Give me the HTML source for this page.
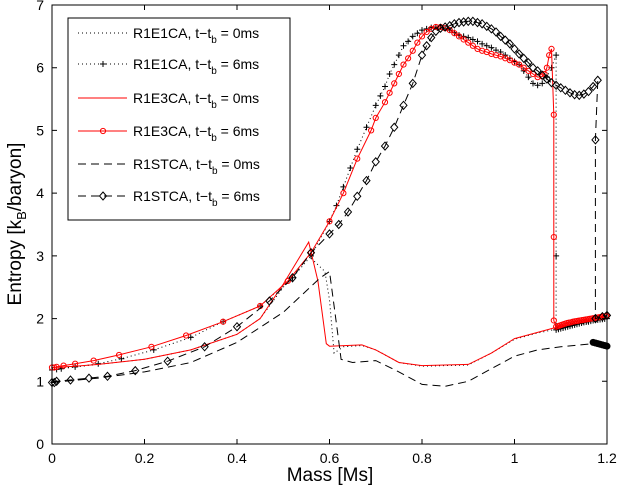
<!DOCTYPE html>
<html><head><meta charset="utf-8"><style>
html,body{margin:0;padding:0;background:#fff;}
svg{display:block;font-family:"Liberation Sans",sans-serif;}
</style></head><body>
<svg id="chart" width="618" height="491" viewBox="0 0 618 491" xmlns="http://www.w3.org/2000/svg">
<g id="plot"></g>
<g id="axes"></g>
<g id="legend"></g>
</svg>
<script>
const xTicks=[0,0.2,0.4,0.6,0.8,1,1.2];
const xTickLabels=["0","0.2","0.4","0.6","0.8","1","1.2"];
const yTicks=[0,1,2,3,4,5,6,7];
const yTickLabels=["0","1","2","3","4","5","6","7"];
// R1E1CA 0ms
const e1_0x=[0,0.05,0.1,0.2,0.3,0.4,0.45,0.5,0.555,0.59,0.6,0.61,0.63,0.67,0.7,0.75,0.8,0.9,0.95,1.0,1.05,1.09,1.15,1.2];
const e1_0y=[1.2,1.23,1.27,1.35,1.5,1.75,2.0,2.5,3.0,2.75,2.3,1.45,1.55,1.57,1.5,1.3,1.24,1.26,1.45,1.67,1.77,1.83,1.92,2.0];
// R1E1CA 6ms
const e1_6x=[0,0.01,0.02,0.05,0.1,0.15,0.22,0.3,0.37,0.45,0.52,0.56,0.6,0.615,0.63,0.645,0.66,0.68,0.7,0.71,0.72,0.73,0.74,0.75,0.76,0.77,0.78,0.79,0.8,0.81,0.82,0.83,0.84,0.85,0.86,0.87,0.88,0.89,0.9,0.91,0.92,0.93,0.94,0.95,0.96,0.97,0.98,0.99,1.0,1.01,1.02,1.03,1.04,1.05,1.06,1.07,1.08,1.09,1.09,1.09,1.09,1.095,1.1,1.105,1.11,1.115,1.12,1.125,1.13,1.135,1.14,1.145,1.15,1.155,1.16,1.165,1.17,1.175,1.18,1.185,1.19,1.195,1.2];
const e1_6y=[1.18,1.19,1.2,1.23,1.28,1.36,1.5,1.7,1.95,2.2,2.65,3.0,3.55,3.8,4.1,4.4,4.7,5.05,5.4,5.55,5.7,5.9,6.05,6.2,6.35,6.42,6.5,6.55,6.6,6.62,6.64,6.65,6.65,6.63,6.6,6.56,6.52,6.5,6.48,6.45,6.42,6.38,6.35,6.32,6.28,6.25,6.2,6.15,6.1,6.05,5.95,5.85,5.75,5.72,5.75,5.85,6.0,6.2,3.0,1.85,1.82,1.83,1.84,1.85,1.86,1.87,1.88,1.89,1.9,1.91,1.92,1.93,1.94,1.945,1.95,1.96,1.97,1.975,1.98,1.985,1.99,1.995,2.0];
// R1E3CA 0ms
const e3_0x=[0,0.05,0.1,0.2,0.3,0.4,0.45,0.5,0.555,0.575,0.593,0.6,0.67,0.7,0.75,0.8,0.9,0.95,1.0,1.05,1.085,1.15,1.2];
const e3_0y=[1.22,1.24,1.27,1.35,1.5,1.75,2.0,2.55,3.22,2.6,1.6,1.56,1.58,1.5,1.3,1.25,1.27,1.45,1.68,1.78,1.85,1.95,2.05];
// R1E3CA 6ms
const e3_6x=[0,0.005,0.01,0.025,0.05,0.09,0.145,0.215,0.29,0.37,0.45,0.51,0.56,0.6,0.63,0.66,0.69,0.7,0.72,0.73,0.74,0.75,0.76,0.77,0.78,0.79,0.8,0.81,0.82,0.83,0.84,0.85,0.86,0.87,0.88,0.89,0.9,0.91,0.92,0.93,0.94,0.95,0.96,0.97,0.98,0.99,1.0,1.01,1.02,1.03,1.04,1.05,1.06,1.065,1.07,1.075,1.08,1.085,1.085,1.085,1.09,1.094,1.098,1.102,1.106,1.11,1.114,1.118,1.122,1.126,1.13,1.134,1.138,1.142,1.146,1.15,1.154,1.158,1.162,1.166,1.17,1.174,1.178,1.182,1.186,1.19,1.194,1.198,1.2];
const e3_6y=[1.22,1.22,1.23,1.25,1.28,1.33,1.42,1.55,1.73,1.95,2.2,2.6,3.05,3.55,4.0,4.55,5.0,5.2,5.45,5.6,5.75,5.9,6.05,6.15,6.27,6.4,6.5,6.57,6.62,6.65,6.65,6.63,6.6,6.55,6.5,6.45,6.4,6.35,6.3,6.27,6.25,6.22,6.2,6.18,6.15,6.12,6.08,6.05,6.0,5.95,5.9,5.85,5.86,5.9,6.0,6.2,6.3,5.25,3.3,1.97,1.87,1.88,1.89,1.9,1.91,1.92,1.93,1.935,1.94,1.95,1.955,1.96,1.965,1.97,1.975,1.98,1.985,1.99,1.995,2.0,2.005,2.01,2.015,2.02,2.025,2.03,2.035,2.04,2.05];
// R1STCA 0ms
const st_0x=[0,0.1,0.2,0.3,0.4,0.5,0.58,0.6,0.61,0.625,0.65,0.7,0.75,0.8,0.85,0.9,0.95,1.0,1.05,1.1,1.17,1.2];
const st_0y=[0.98,1.05,1.15,1.3,1.62,2.1,2.65,2.75,2.2,1.35,1.3,1.33,1.15,0.95,0.92,1.0,1.2,1.4,1.5,1.55,1.6,1.55];
// R1STCA 6ms
const st_6x=[0,0.005,0.01,0.04,0.08,0.12,0.18,0.25,0.33,0.4,0.47,0.52,0.56,0.6,0.62,0.64,0.66,0.68,0.7,0.72,0.74,0.76,0.78,0.8,0.81,0.82,0.83,0.84,0.85,0.86,0.87,0.88,0.89,0.9,0.91,0.92,0.93,0.94,0.95,0.96,0.97,0.98,0.99,1.0,1.01,1.02,1.03,1.04,1.05,1.06,1.07,1.08,1.09,1.1,1.11,1.12,1.13,1.14,1.15,1.16,1.17,1.18,1.175,1.175,1.19,1.2];
const st_6y=[0.98,0.98,1.0,1.02,1.05,1.08,1.17,1.32,1.55,1.87,2.28,2.65,3.05,3.35,3.5,3.7,3.95,4.2,4.5,4.75,5.05,5.4,5.75,6.2,6.35,6.48,6.58,6.63,6.65,6.67,6.7,6.72,6.73,6.74,6.74,6.72,6.7,6.66,6.62,6.57,6.5,6.44,6.38,6.3,6.22,6.15,6.08,6.0,5.95,5.88,5.82,5.76,5.72,5.68,5.64,5.6,5.57,5.56,5.58,5.62,5.7,5.8,4.85,2.0,2.03,2.05];
// dense tail blobs (STCA 0ms end)
const stTailX=[1.17,1.175,1.18,1.185,1.19,1.195,1.2];
const stTailY=[1.62,1.61,1.6,1.59,1.58,1.57,1.56];

const X0=52,X1=607,Y0=444,YT=5;
const sx=v=>X0+(X1-X0)*v/1.2;
const sy=v=>Y0-(Y0-YT)*v/7;
const NS="http://www.w3.org/2000/svg";
const plot=document.getElementById('plot'),axes=document.getElementById('axes'),leg=document.getElementById('legend');
function mk(tag,attrs,parent){const e=document.createElementNS(NS,tag);for(const k in attrs)e.setAttribute(k,attrs[k]);parent.appendChild(e);return e;}
function pathD(xs,ys){return xs.map((x,i)=>(i?'L':'M')+sx(x).toFixed(1)+','+sy(ys[i]).toFixed(1)).join(' ');}
function marker(type,cx,cy,color,parent){
 if(type==='plus'){return mk('path',{d:`M${cx-3},${cy}H${cx+3}M${cx},${cy-3}V${cy+3}`,stroke:color,'stroke-width':1,fill:'none'},parent);}
 if(type==='circle'){return mk('circle',{cx:cx,cy:cy,r:2.6,stroke:color,'stroke-width':1,fill:'none'},parent);}
 if(type==='diamond'){return mk('path',{d:`M${cx},${cy-4}L${cx+3.5},${cy}L${cx},${cy+4}L${cx-3.5},${cy}Z`,stroke:color,'stroke-width':1,fill:'none'},parent);}
}
const series=[
 {name:'R1E1CA, t−t',suf:'0ms',xs:e1_0x,ys:e1_0y,color:'#000',dash:'1 3',mk:null,id:'r1e1ca-0ms'},
 {name:'R1E1CA, t−t',suf:'6ms',xs:e1_6x,ys:e1_6y,color:'#000',dash:'1 3',mk:'plus',id:'r1e1ca-6ms'},
 {name:'R1E3CA, t−t',suf:'0ms',xs:e3_0x,ys:e3_0y,color:'#f00',dash:'',mk:null,id:'r1e3ca-0ms'},
 {name:'R1E3CA, t−t',suf:'6ms',xs:e3_6x,ys:e3_6y,color:'#f00',dash:'',mk:'circle',id:'r1e3ca-6ms'},
 {name:'R1STCA, t−t',suf:'0ms',xs:st_0x,ys:st_0y,color:'#000',dash:'8 5',mk:null,id:'r1stca-0ms'},
 {name:'R1STCA, t−t',suf:'6ms',xs:st_6x,ys:st_6y,color:'#000',dash:'8 5',mk:'diamond',id:'r1stca-6ms'}
];
series.forEach(s=>{
 const g=mk('g',{},plot);
 
 
 const p=mk('path',{d:pathD(s.xs,s.ys),stroke:s.color,'stroke-width':1,fill:'none','stroke-dasharray':s.dash},g);
 
 
 if(s.mk){s.xs.forEach((x,i)=>{const m=marker(s.mk,sx(x),sy(s.ys[i]),s.color,g);
  
  });}
});
stTailX.forEach((x,i)=>{const c=mk('circle',{cx:sx(x),cy:sy(stTailY[i]),r:3.5,fill:'#000'},plot);
 
 });
const fr=mk('rect',{x:X0,y:YT,width:X1-X0,height:Y0-YT,fill:'none',stroke:'#000','stroke-width':1},axes);


xTicks.forEach((v,i)=>{const x=sx(v);
 mk('path',{d:`M${x},${Y0}V${Y0-5}M${x},${YT}V${YT+5}`,stroke:'#000'},axes);
 const t=mk('text',{x:x,y:Y0+19,'text-anchor':'middle','font-size':14},axes);t.textContent=xTickLabels[i];
 
 });
yTicks.forEach((v,i)=>{const y=sy(v);
 mk('path',{d:`M${X0},${y}H${X0+5}M${X1},${y}H${X1-5}`,stroke:'#000'},axes);
 const t=mk('text',{x:X0-8,y:y+5,'text-anchor':'end','font-size':14},axes);t.textContent=yTickLabels[i];
 
 });
const xl=mk('text',{x:330,y:481,'text-anchor':'middle','font-size':19},axes);xl.textContent='Mass [Ms]';


const yl=mk('text',{x:0,y:0,'text-anchor':'middle','font-size':19,transform:'translate(21,224) rotate(-90)'},axes);
yl.innerHTML='Entropy [k<tspan font-size="13" dy="5">B</tspan><tspan dy="-5">/baryon]</tspan>';


const lb=mk('rect',{x:68,y:18,width:222,height:202,fill:'#fff',stroke:'#000','stroke-width':1},leg);


const ly=[33,64,98,131,164,196];
series.forEach((s,i)=>{const g=mk('g',{},leg);
 
 
 const y=ly[i];
 mk('path',{d:`M78,${y}H127`,stroke:s.color,'stroke-width':1,'stroke-dasharray':s.dash},g);
 if(s.mk)marker(s.mk,103,y,s.color,g);
 const t=mk('text',{x:133,y:y+5,'font-size':14},g);
 t.innerHTML=s.name+'<tspan font-size="10" dy="5">b</tspan><tspan dy="-5"> = '+s.suf+'</tspan>';
});
</script>
</body></html>
